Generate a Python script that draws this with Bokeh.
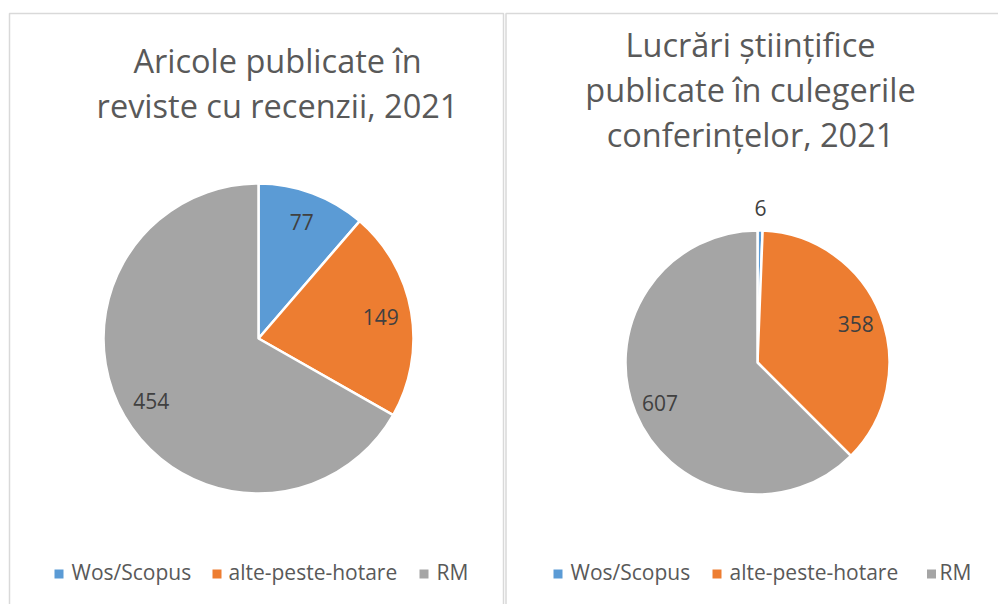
import numpy as np
from bokeh.plotting import figure
from bokeh.models import Range1d, ColumnDataSource
from bokeh.core.properties import value
from bokeh.embed import file_html
from bokeh.resources import INLINE

# ---- data ----
categories = ["Wos/Scopus", "alte-peste-hotare", "RM"]
colors = ["#5B9BD5", "#ED7D31", "#A5A5A5"]
articles_2021 = [77, 149, 454]
conference_2021 = [6, 358, 607]
title_left = ["Aricole publicate în", "reviste cu recenzii, 2021"]
title_right = ["Lucrări științifice", "publicate în culegerile", "conferințelor, 2021"]

W, H = 998, 604
FONT = value("Open Sans")

p = figure(width=W, height=H, output_backend="svg", toolbar_location=None,
           x_range=Range1d(0, W), y_range=Range1d(0, H),
           min_border=0, outline_line_color=None, background_fill_color="white")
p.axis.visible = False
p.grid.visible = False


def sy(y_screen):
    return H - y_screen


def border(x0, x1, y_top):
    p.line([x0, x0, x1, x1], [sy(620), sy(y_top), sy(y_top), sy(620)],
           line_color="#D9D9D9", line_width=1.5)


border(9, 503, 13)
border(505.5, 1010, 13)


def pie(vals, cx, cy, r, label_frac, title_lines, title_cx, title_mid, legend_x):
    vals = np.array(vals, dtype=float)
    total = vals.sum()
    cum = np.concatenate([[0], np.cumsum(vals)])
    start = np.pi / 2 - 2 * np.pi * cum[:-1] / total
    end = np.pi / 2 - 2 * np.pi * cum[1:] / total
    src = ColumnDataSource(dict(start=start, end=end, color=colors))
    p.wedge(x=cx, y=sy(cy), radius=r, start_angle="start", end_angle="end",
            direction="clock", fill_color="color", line_color="white",
            line_width=2.5, source=src)
    mid = (start + end) / 2
    lx = cx + np.array(label_frac) * r * np.cos(mid)
    ly = sy(cy) + np.array(label_frac) * r * np.sin(mid)
    p.text(x=lx, y=ly, text=[str(int(v)) for v in vals], text_font=FONT,
           text_font_size="21px", text_color="#404040", text_align="center",
           text_baseline="middle")
    for i, line in enumerate(title_lines):
        p.text(x=[title_cx], y=[sy(title_mid + 45 * i)], text=[line], text_font=FONT,
               text_font_size="32.5px", text_color="#595959", text_align="center",
               text_baseline="middle")
    for (sx, tx), cat, col in zip(legend_x, categories, colors):
        p.rect(x=[sx], y=[sy(573.5)], width=9, height=9, fill_color=col, line_color=None)
        p.text(x=[tx], y=[sy(571.5)], text=[cat], text_font=FONT, text_font_size="21px",
               text_color="#595959", text_align="left", text_baseline="middle")


pie(articles_2021, 258, 338, 155, [0.8, 0.8, 0.8], title_left, 277, 60,
    [(58.5, 71), (216.5, 228), (423.5, 436)])
pie(conference_2021, 757, 362, 132, [1.17, 0.8, 0.8], title_right, 750, 44,
    [(557.5, 570), (716.5, 729), (931, 939)])

open("out.html", "w").write(file_html(p, INLINE))
